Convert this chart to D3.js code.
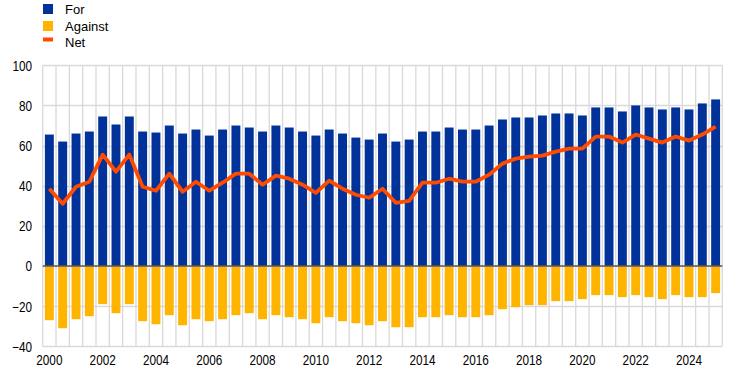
<!DOCTYPE html>
<html>
<head>
<meta charset="utf-8">
<script src="https://cdn.jsdelivr.net/npm/d3@7"></script>
<style>
  html, body { margin: 0; padding: 0; background: #fff; }
  svg { display: block; }
  text { font-family: "Liberation Sans", Arial, sans-serif; fill: #000; }
  .ax { font-family: "Liberation Sans", Arial, sans-serif; font-size: 14px; }
</style>
</head>
<body>
<svg id="chart" width="744" height="373"></svg>
<script>
// Half-yearly survey periods, 2000 H1 .. 2025 H1
const periods = [
  "2000H1","2000H2","2001H1","2001H2","2002H1","2002H2","2003H1","2003H2","2004H1","2004H2",
  "2005H1","2005H2","2006H1","2006H2","2007H1","2007H2","2008H1","2008H2","2009H1","2009H2",
  "2010H1","2010H2","2011H1","2011H2","2012H1","2012H2","2013H1","2013H2","2014H1","2014H2",
  "2015H1","2015H2","2016H1","2016H2","2017H1","2017H2","2018H1","2018H2","2019H1","2019H2",
  "2020H1","2020H2","2021H1","2021H2","2022H1","2022H2","2023H1","2023H2","2024H1","2024H2",
  "2025H1"
];
const forValues = [
  65.5, 62, 66, 67, 74.5, 70.5, 74.5, 67, 66.5, 70,
  66, 68, 65, 68, 70, 69, 67, 70, 69, 67,
  65, 68, 66, 64, 63, 66, 62, 63, 67, 67,
  69, 68, 68, 70, 73, 74, 74, 75, 76, 76,
  75, 79, 79, 77, 80, 79, 78, 79, 78, 81,
  83
];
const againstValues = [
  -27, -31, -26.5, -25, -19, -23.5, -19, -27.5, -29, -24.5,
  -29.5, -26.5, -27.5, -26.5, -24.5, -23.5, -26.5, -24.5, -25.5, -26.5,
  -28.5, -25.5, -27.5, -28.5, -29.5, -27.5, -30.5, -30.5, -25.5, -25.5,
  -24.5, -25.5, -25.5, -24.5, -21.5, -20.5, -19.5, -19.5, -17.5, -17.5,
  -16.5, -14.5, -14.5, -15.5, -14.5, -15.5, -16.5, -14.5, -15.5, -15.5,
  -13.5
];
const netValues = [
  38.5, 31, 39.5, 42, 55.5, 47, 55.5, 39.5, 37.5, 46,
  37, 42, 37.5, 41.5, 46, 46, 40.5, 45, 43.5, 40.5,
  36.5, 42.5, 38.5, 35.5, 34, 38.5, 31.5, 32.5, 41.5, 41.5,
  43.5, 42, 42, 45.5, 51, 53.5, 54.5, 55, 57, 58.5,
  58.5, 64.5, 64.5, 61.5, 65.5, 63.5, 61.5, 64.5, 62.5, 65.5,
  69.5
];
const yTicks = [-40, -20, 0, 20, 40, 60, 80, 100];
const xTickPeriods = ["2000H1","2002H1","2004H1","2006H1","2008H1","2010H1","2012H1",
                      "2014H1","2016H1","2018H1","2020H1","2022H1","2024H1"];
const xTickLabels = ["2000","2002","2004","2006","2008","2010","2012",
                     "2014","2016","2018","2020","2022","2024"];
const seriesNames = ["For", "Against", "Net"];
const colors = { For: "#003299", Against: "#FFB400", Net: "#FF4B00" };

const svg = d3.select("#chart");
const pLeft = 42.7, pRight = 722.3, pTop = 65.3, pBottom = 346.3;

const x = d3.scaleBand().domain(periods).range([pLeft, pRight])
  .paddingInner(0.33).paddingOuter(0.165);
const y = d3.scaleLinear().domain([-40, 100]).range([pBottom, pTop]);
const step = x.step();

// Gridlines
const grid = svg.append("g");
grid.selectAll("line.h").data(yTicks).join("line")
  .attr("x1", pLeft).attr("x2", pRight)
  .attr("y1", d => Math.round(y(d)) + 0.5).attr("y2", d => Math.round(y(d)) + 0.5)
  .attr("stroke", "#d9d9d9").attr("stroke-width", 1.3);
const bounds = d3.range(periods.length + 1);
grid.selectAll("line.v").data(bounds).join("line")
  .attr("x1", k => pLeft + k * step).attr("x2", k => pLeft + k * step)
  .attr("y1", pTop).attr("y2", pBottom)
  .attr("stroke", "#d9d9d9").attr("stroke-width", 1.3);

// Bars
svg.append("g").selectAll("rect").data(periods).join("rect")
  .attr("x", (p) => x(p)).attr("width", x.bandwidth())
  .attr("y", (p, i) => y(forValues[i]))
  .attr("height", (p, i) => y(0) - y(forValues[i]))
  .attr("fill", colors.For);
svg.append("g").selectAll("rect").data(periods).join("rect")
  .attr("x", (p) => x(p)).attr("width", x.bandwidth())
  .attr("y", y(0))
  .attr("height", (p, i) => y(againstValues[i]) - y(0))
  .attr("fill", colors.Against);

// Zero line
svg.append("line")
  .attr("x1", pLeft).attr("x2", pRight)
  .attr("y1", y(0)).attr("y2", y(0))
  .attr("stroke", "#595959").attr("stroke-width", 1.3);

// Net line
const line = d3.line()
  .x((d, i) => x(periods[i]) + x.bandwidth() / 2)
  .y(d => y(d));
svg.append("path").datum(netValues)
  .attr("d", line)
  .attr("fill", "none").attr("stroke", colors.Net)
  .attr("stroke-width", 3.8).attr("stroke-linejoin", "round").attr("stroke-linecap", "butt");

// Y axis labels
const yAxis = d3.axisLeft(y).tickValues(yTicks).tickSize(0).tickPadding(0);
const gy = svg.append("g").attr("transform", "translate(32,0)").call(yAxis);
gy.select(".domain").remove();
gy.attr("font-family", null).attr("font-size", null);
gy.selectAll("text").attr("class", "ax").attr("fill", "#000").attr("dy", "0.35em")
  .attr("transform", "scale(0.84,1)");

// X axis labels
const xAxis = d3.axisBottom(x).tickValues(xTickPeriods)
  .tickFormat(p => xTickLabels[xTickPeriods.indexOf(p)]).tickSize(0).tickPadding(0);
const gx = svg.append("g").attr("transform", "translate(0,352)").call(xAxis);
gx.select(".domain").remove();
gx.attr("font-family", null).attr("font-size", null);
gx.selectAll("text").attr("class", "ax").attr("fill", "#000").attr("dy", "0.95em")
  .attr("transform", "scale(0.84,1)");

// Legend
const legend = svg.append("g");
const rows = [
  { name: seriesNames[0], yc: 9, ty: 14, type: "box" },
  { name: seriesNames[1], yc: 26, ty: 30.5, type: "box" },
  { name: seriesNames[2], yc: 39.5, ty: 47, type: "line" }
];
rows.forEach(r => {
  if (r.type === "box") {
    legend.append("rect").attr("x", 43).attr("y", r.yc - 5).attr("width", 10).attr("height", 10)
      .attr("fill", colors[r.name]);
  } else {
    legend.append("rect").attr("x", 43).attr("y", r.yc - 2).attr("width", 10).attr("height", 4)
      .attr("fill", colors[r.name]);
  }
  legend.append("text").attr("x", 65).attr("y", r.ty).attr("font-size", 13).text(r.name);
});
</script>
</body>
</html>
